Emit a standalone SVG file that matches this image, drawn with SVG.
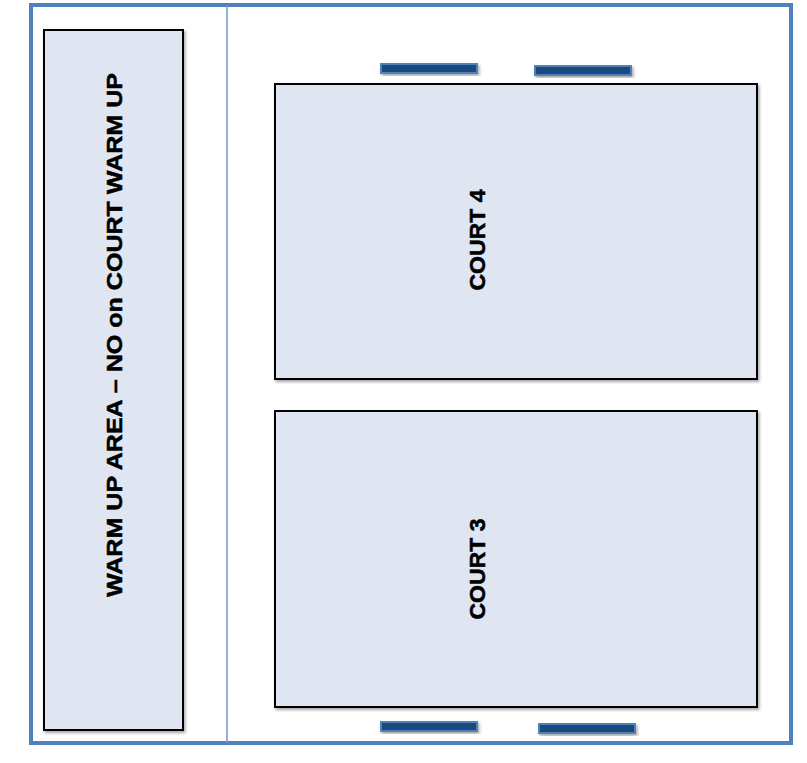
<svg xmlns="http://www.w3.org/2000/svg" width="807" height="763" viewBox="0 0 807 763">
<defs>
<filter id="sh" x="-10%" y="-10%" width="130%" height="140%">
<feDropShadow dx="1.5" dy="2" stdDeviation="1.5" flood-color="#000" flood-opacity="0.35"/>
</filter>
</defs>
<style>
.area{fill:#dfe6f2;stroke:#000;stroke-width:2;filter:url(#sh)}
.bar{fill:#1f497d;stroke:#4f81bd;stroke-width:2;filter:url(#sh)}
.lbl{font-family:"Liberation Sans",Arial,sans-serif;font-weight:bold;font-size:22px;fill:#000;stroke:#000;stroke-width:0.5}
</style>
<rect width="807" height="763" fill="#fff"/>
<g id="frame">
<rect x="31" y="5" width="760" height="738" fill="none" stroke="#4f81bd" stroke-width="4"/>
<line x1="227" y1="5" x2="227" y2="743" stroke="#6f97c9" stroke-width="1.5"/>
</g>
<g id="warmup">
<rect class="area" x="44" y="30" width="139" height="700"/>
<text class="lbl" transform="translate(122,335) rotate(-90)" text-anchor="middle" textLength="524" lengthAdjust="spacingAndGlyphs">WARM UP AREA – NO on COURT WARM UP</text>
</g>
<g id="court4">
<rect class="area" x="275" y="84" width="482" height="295"/>
<text class="lbl" transform="translate(485,240) rotate(-90)" text-anchor="middle" textLength="101" lengthAdjust="spacingAndGlyphs">COURT 4</text>
</g>
<g id="court3">
<rect class="area" x="275" y="411" width="482" height="296"/>
<text class="lbl" transform="translate(485,569) rotate(-90)" text-anchor="middle" textLength="101" lengthAdjust="spacingAndGlyphs">COURT 3</text>
</g>
<g id="bars">
<rect class="bar" x="381" y="64" width="96" height="9"/>
<rect class="bar" x="535" y="66" width="96" height="9"/>
<rect class="bar" x="381" y="722" width="96" height="9"/>
<rect class="bar" x="539" y="724" width="96" height="9"/>
</g>
</svg>
